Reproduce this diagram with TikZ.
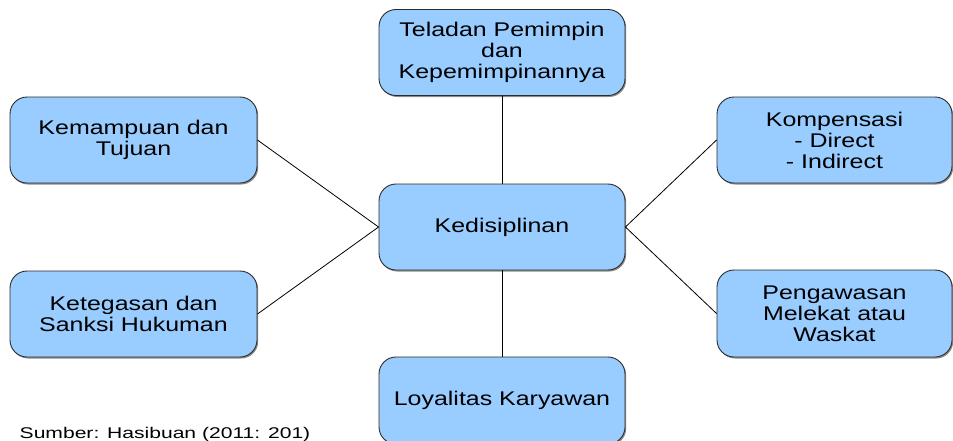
\documentclass[tikz,border=0pt]{standalone}
\usepackage{fontspec}
\setmainfont{Liberation Sans}
\newfontfamily\boxfont{Liberation Sans}[FakeStretch=1.26]
\newfontfamily\srcfont{Liberation Sans}[FakeStretch=1.36]
\usetikzlibrary{shadows}
\definecolor{boxblue}{HTML}{99CCFF}
\definecolor{boxline}{HTML}{2B2B2B}
\begin{document}
\begin{tikzpicture}[x=1pt,y=-1pt,
  box/.style={draw=boxline, line width=0.9pt, fill=boxblue, rounded corners=17pt,
    align=center, inner sep=0pt, minimum width=246pt, minimum height=86pt,
    font=\boxfont\fontsize{19.8}{21}\selectfont,
    drop shadow={shadow xshift=1.2pt, shadow yshift=-1.5pt, fill=black, opacity=0.45}},
  conn/.style={draw=black, line width=0.8pt}]
\useasboundingbox (0,0) rectangle (953,440);
\clip (0,0) rectangle (953,440);
\node[box] (top) at (502,52.5) {Teladan Pemimpin\\dan\\Kepemimpinannya};
\node[box, minimum width=247pt] (kt) at (133.5,140) {Kemampuan dan\\Tujuan};
\node[box, minimum width=247pt] (kb) at (133.5,314) {Ketegasan dan\\Sanksi Hukuman};
\node[box] (c) at (502,227) {Kedisiplinan};
\node[box, minimum width=235pt] (rt) at (834.5,140) {Kompensasi\\- Direct\\- Indirect};
\node[box, minimum width=235pt, minimum height=87pt] (rb) at (834.5,313.5) {Pengawasan\\Melekat atau\\Waskat};
\node[box, minimum height=87pt] (bot) at (502,400.5) {Loyalitas Karyawan};
\node[anchor=base west, inner sep=0pt, font=\srcfont\fontsize{15.5}{17}\selectfont] (src) at (19.5,438) {Sumber: Hasibuan (2011: 201)};
\draw[conn] (kt.east) -- (c.west);
\draw[conn] (kb.east) -- (c.west);
\draw[conn] (c.east) -- (rt.west);
\draw[conn] (c.east) -- (rb.west);
\draw[conn] (top.south) -- (c.north);
\draw[conn] (c.south) -- (bot.north);
\end{tikzpicture}
\end{document}
